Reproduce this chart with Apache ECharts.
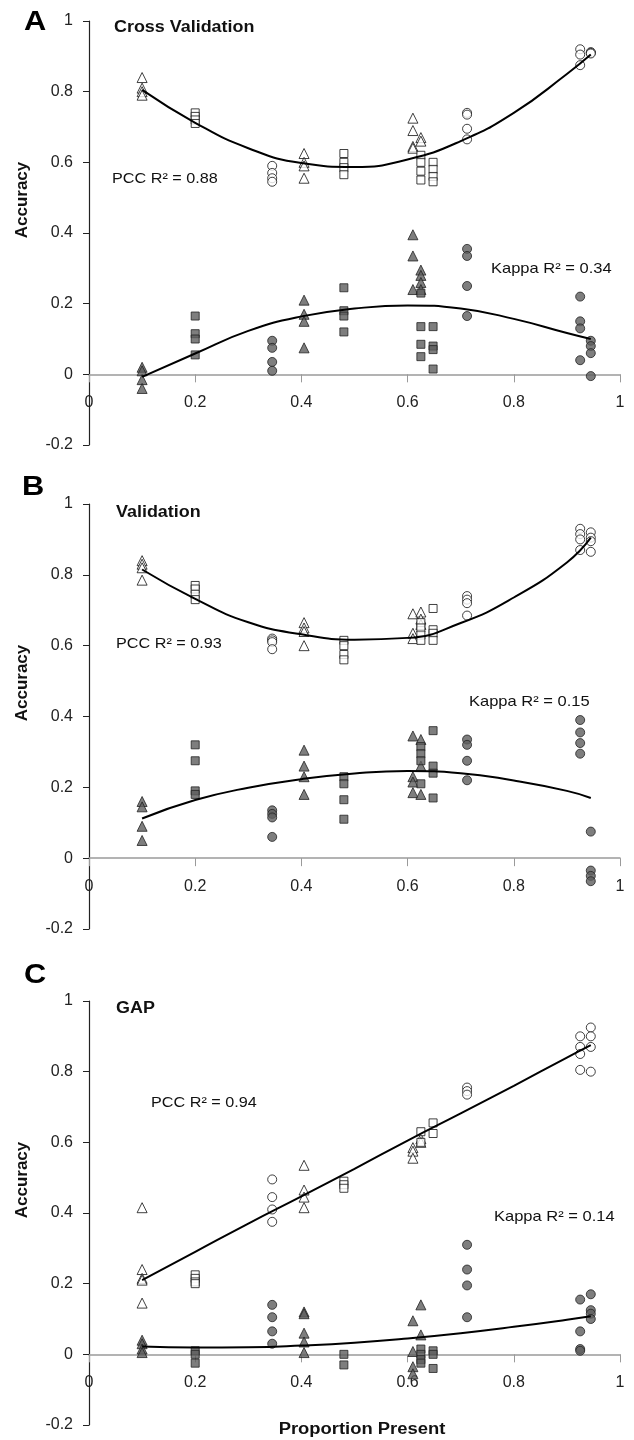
<!DOCTYPE html>
<html>
<head>
<meta charset="utf-8">
<script src="https://cdn.jsdelivr.net/npm/echarts@6/dist/echarts.min.js"></script>
<style>
html,body{margin:0;padding:0;background:#fff;}
#chart{width:634px;height:1440px;}
</style>
</head>
<body>
<div id="chart"></div>
<script>
// ---- site positions (proportion present) ----
const triSites  = [0.10, 0.405, 0.61, 0.625];
const sqSites   = [0.20, 0.48, 0.625, 0.648];
const circSites = [0.345, 0.712, 0.925, 0.945];
const xTicks = [0, 0.2, 0.4, 0.6, 0.8, 1];
const yTicks = [-0.2, 0, 0.2, 0.4, 0.6, 0.8, 1];

// ---- Panel A: Cross Validation ----
const aPccTri  = [[0.84,0.81,0.80,0.79],[0.625,0.60,0.59,0.555],[0.725,0.69,0.645,0.64],[0.67,0.66]];
const aPccSq   = [[0.74,0.73,0.72,0.71],[0.625,0.60,0.585,0.565],[0.62,0.60,0.575,0.55],[0.60,0.58,0.56,0.545]];
const aPccCirc = [[0.59,0.57,0.555,0.545],[0.74,0.735,0.695,0.665],[0.92,0.905,0.875],[0.912,0.91,0.908]];
const aKapTri  = [[0.02,0.01,-0.015,-0.04],[0.21,0.17,0.15,0.075],[0.395,0.335,0.24],[0.295,0.28,0.26,0.24]];
const aKapSq   = [[0.165,0.115,0.10,0.055],[0.245,0.18,0.165,0.12],[0.23,0.135,0.085,0.05],[0.135,0.08,0.07,0.015]];
const aKapCirc = [[0.095,0.075,0.035,0.01],[0.355,0.335,0.25,0.165],[0.22,0.15,0.13,0.04],[0.095,0.08,0.06,-0.005]];

// ---- Panel B: Validation ----
const bPccTri  = [[0.84,0.83,0.82,0.785],[0.665,0.65,0.64,0.60],[0.69,0.635,0.62],[0.695,0.675,0.66]];
const bPccSq   = [[0.77,0.76,0.745,0.73],[0.615,0.60,0.575,0.56],[0.665,0.65,0.63,0.615],[0.705,0.645,0.635,0.615]];
const bPccCirc = [[0.62,0.615,0.61,0.59],[0.74,0.73,0.72,0.685],[0.93,0.915,0.90,0.87],[0.92,0.905,0.895,0.865]];
const bKapTri  = [[0.16,0.145,0.09,0.05],[0.305,0.26,0.23,0.18],[0.345,0.23,0.215,0.185],[0.335,0.26,0.18]];
const bKapSq   = [[0.32,0.275,0.19,0.18],[0.23,0.21,0.165,0.11],[0.315,0.295,0.275,0.21],[0.36,0.26,0.24,0.17]];
const bKapCirc = [[0.135,0.125,0.115,0.06],[0.335,0.32,0.275,0.22],[0.39,0.355,0.325,0.295],[0.075,-0.035,-0.05,-0.065]];

// ---- Panel C: GAP ----
const cPccTri  = [[0.415,0.24,0.215,0.21,0.145],[0.535,0.465,0.445,0.415],[0.585,0.575,0.555],[0.61,0.60]];
const cPccSq   = [[0.225,0.215,0.205,0.20],[0.49,0.48,0.47],[0.63,0.60],[0.655,0.625]];
const cPccCirc = [[0.495,0.445,0.41,0.375],[0.755,0.745,0.735],[0.90,0.87,0.85,0.805],[0.925,0.90,0.87,0.80]];
const cKapTri  = [[0.04,0.03,0.015,0.005],[0.12,0.115,0.06,0.035,0.005],[0.095,0.008,-0.035,-0.055],[0.14,0.055]];
const cKapSq   = [[0.01,0.0,-0.025],[0.0,-0.03],[0.015,0.0,-0.015,-0.025],[0.01,0.0,-0.04]];
const cKapCirc = [[0.14,0.105,0.065,0.03],[0.31,0.24,0.195,0.105],[0.155,0.065,0.015,0.01],[0.17,0.125,0.115,0.10]];

// ---- fitted trend lines ----
const fitX    = [0.1, 0.2, 0.3, 0.4, 0.5, 0.6, 0.7, 0.8, 0.9, 0.945];
const aPccFit = [0.805,0.712,0.640,0.598,0.587,0.608,0.66,0.74,0.85,0.905];
const aKapFit = [-0.007,0.059,0.123,0.164,0.186,0.195,0.186,0.157,0.117,0.10];
const bPccFit = [0.815,0.732,0.666,0.632,0.617,0.622,0.664,0.736,0.835,0.905];
const bKapFit = [0.112,0.164,0.199,0.223,0.239,0.246,0.24,0.219,0.19,0.17];
const cPccFit = [0.21,0.29,0.37,0.447,0.525,0.605,0.682,0.76,0.84,0.875];
const cKapFit = [0.022,0.019,0.02,0.025,0.033,0.045,0.06,0.078,0.098,0.108];

// ---- labels ----
const panelLetters = ['A','B','C'];
const panelTitles  = ['Cross Validation','Validation','GAP'];
const pccLabels    = ['PCC R² = 0.88','PCC R² = 0.93','PCC R² = 0.94'];
const kapLabels    = ['Kappa R² = 0.34','Kappa R² = 0.15','Kappa R² = 0.14'];
const yName = 'Accuracy';
const xName = 'Proportion Present';

// ---- layout ----
const FONT = '"Liberation Sans", Arial, sans-serif';
const grids = [
  {left:89, top:21,   width:531, height:424},
  {left:89, top:504,  width:531, height:425},
  {left:89, top:1001, width:531, height:424}
];
const letterPos = [[35,22],[33,487],[35,975]];
const titlePos  = [[114,28],[116,513],[116,1009]];
const pccPos    = [[112,179],[116,644],[151,1103]];
const kapPos    = [[491,269],[469,702],[494,1217]];

function pts(sites, groups){
  const out = [];
  groups.forEach((g,i)=>g.forEach(v=>out.push([sites[i], v])));
  return out;
}
function line(ys){ return fitX.map((x,i)=>[x, ys[i]]); }

const openStyle = {color:'#ffffff', borderColor:'#111', borderWidth:1};
const fillStyle = {color:'#5e5e5e', borderColor:'#222', borderWidth:1};

const panels = [
  {pt:aPccTri, ps:aPccSq, pc:aPccCirc, kt:aKapTri, ks:aKapSq, kc:aKapCirc, pf:aPccFit, kf:aKapFit},
  {pt:bPccTri, ps:bPccSq, pc:bPccCirc, kt:bKapTri, ks:bKapSq, kc:bKapCirc, pf:bPccFit, kf:bKapFit},
  {pt:cPccTri, ps:cPccSq, pc:cPccCirc, kt:cKapTri, ks:cKapSq, kc:cKapCirc, pf:cPccFit, kf:cKapFit}
];

const series = [];
panels.forEach((p, i)=>{
  const base = {type:'scatter', xAxisIndex:i, yAxisIndex:i, silent:true, animation:false};
  series.push(Object.assign({}, base, {symbol:'triangle', symbolSize:[10,10], itemStyle:openStyle, data:pts(triSites,p.pt)}));
  series.push(Object.assign({}, base, {symbol:'rect', symbolSize:8, itemStyle:openStyle, data:pts(sqSites,p.ps)}));
  series.push(Object.assign({}, base, {symbol:'circle', symbolSize:9, itemStyle:openStyle, data:pts(circSites,p.pc)}));
  series.push(Object.assign({}, base, {symbol:'triangle', symbolSize:[10,10], itemStyle:fillStyle, data:pts(triSites,p.kt)}));
  series.push(Object.assign({}, base, {symbol:'rect', symbolSize:8, itemStyle:fillStyle, data:pts(sqSites,p.ks)}));
  series.push(Object.assign({}, base, {symbol:'circle', symbolSize:9, itemStyle:fillStyle, data:pts(circSites,p.kc)}));
  series.push({type:'line', xAxisIndex:i, yAxisIndex:i, smooth:true, symbol:'none', silent:true, animation:false,
    lineStyle:{color:'#000', width:2}, data:line(p.pf), z:3});
  series.push({type:'line', xAxisIndex:i, yAxisIndex:i, smooth:true, symbol:'none', silent:true, animation:false,
    lineStyle:{color:'#000', width:2}, data:line(p.kf), z:3});
});

// x axis sits on y = 0 : shift it up from the grid bottom by the share of the range below zero
const yRange = yTicks[yTicks.length-1] - yTicks[0];
const xAxes = grids.map((g,i)=>({
  type:'value', gridIndex:i, min:xTicks[0], max:xTicks[xTicks.length-1], interval:0.2,
  offset: -g.height * (0 - yTicks[0]) / yRange,
  axisLine:{onZero:false, lineStyle:{color:'#9a9a9a', width:1.5}},
  axisTick:{show:true, length:8, lineStyle:{color:'#9a9a9a', width:1}},
  axisLabel:{show:true, margin:20, color:'#222', fontSize:16, fontFamily:FONT,
    formatter:v=>String(+v.toFixed(1)), showMinLabel:true, showMaxLabel:true},
  splitLine:{show:false}
}));
const yAxes = grids.map((g,i)=>({
  type:'value', gridIndex:i, min:yTicks[0], max:yTicks[yTicks.length-1], interval:0.2,
  axisLine:{show:true, onZero:false, lineStyle:{color:'#222', width:1.2}},
  axisTick:{show:true, length:6, lineStyle:{color:'#222', width:1}},
  axisLabel:{show:true, margin:16, color:'#222', fontSize:16, fontFamily:FONT,
    formatter:v=>String(+v.toFixed(1))},
  splitLine:{show:false}
}));

const graphic = [];
grids.forEach((g,i)=>{
  graphic.push({type:'text', x:letterPos[i][0], y:letterPos[i][1], scaleX:1.1,
    style:{text:panelLetters[i], font:'bold 28px '+FONT, fill:'#000', textAlign:'center', textVerticalAlign:'middle'}});
  graphic.push({type:'text', x:titlePos[i][0], y:titlePos[i][1], scaleX:1.12,
    style:{text:panelTitles[i], font:'bold 16px '+FONT, fill:'#111', textAlign:'left', textVerticalAlign:'middle'}});
  graphic.push({type:'text', x:pccPos[i][0], y:pccPos[i][1], scaleX:1.08,
    style:{text:pccLabels[i], font:'15px '+FONT, fill:'#111', textAlign:'left', textVerticalAlign:'middle'}});
  graphic.push({type:'text', x:kapPos[i][0], y:kapPos[i][1], scaleX:1.1,
    style:{text:kapLabels[i], font:'15px '+FONT, fill:'#111', textAlign:'left', textVerticalAlign:'middle'}});
  graphic.push({type:'text', x:22, y:g.top+179, rotation:Math.PI/2,
    style:{text:yName, font:'bold 17px '+FONT, fill:'#111', textAlign:'center', textVerticalAlign:'middle'}});
});
graphic.push({type:'text', x:362, y:1430, scaleX:1.15,
  style:{text:xName, font:'bold 16px '+FONT, fill:'#111', textAlign:'center', textVerticalAlign:'middle'}});

const chart = echarts.init(document.getElementById('chart'), null, {renderer:'canvas'});
chart.setOption({
  animation:false,
  backgroundColor:'#ffffff',
  grid:grids,
  xAxis:xAxes,
  yAxis:yAxes,
  series:series,
  graphic:graphic
});
</script>
</body>
</html>
